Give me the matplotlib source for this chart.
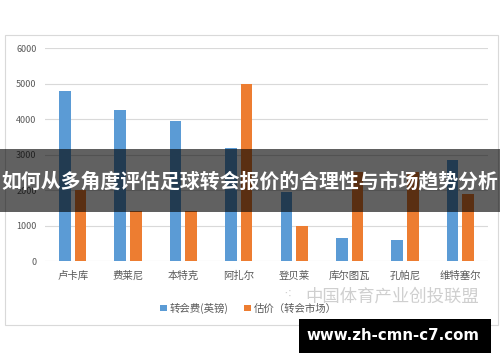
import matplotlib
matplotlib.use("Agg")
import matplotlib.pyplot as plt
import numpy as np
from matplotlib.patches import Rectangle

plt.rcParams['font.family'] = ['Noto Sans CJK SC', 'DejaVu Sans']

players = ["卢卡库", "费莱尼", "本特克", "阿扎尔", "登贝莱", "库尔图瓦", "孔帕尼", "维特塞尔"]
transfer_fee = [4800, 4250, 3950, 3180, 1950, 650, 600, 2850]
valuation = [2000, 1400, 1400, 5000, 1000, 2500, 2500, 1900]
series_names = ["转会费(英镑)", "估价（转会市场）"]
yticks = [0, 1000, 2000, 3000, 4000, 5000, 6000]
title = "如何从多角度评估足球转会报价的合理性与市场趋势分析"
site = "www.zh-cmn-c7.com"
watermark = "中国体育产业创投联盟"

blue = "#5B9BD5"
orange = "#ED7D31"

fig = plt.figure(figsize=(5, 3.62), dpi=100)
fig.patch.set_facecolor("white")

# chart frame
fig.patches.append(Rectangle((0.01, 0.102), 0.985, 0.801, transform=fig.transFigure,
                             facecolor="none", edgecolor="#d9d9d9", lw=0.8, zorder=-5))

ax = fig.add_axes([0.09, 0.279, 0.886, 0.588])
ax.set_zorder(2)
x = np.arange(len(players))
w = 0.21
b1 = ax.bar(x - 0.14, transfer_fee, w, color=blue, zorder=3, label=series_names[0])
b2 = ax.bar(x + 0.14, valuation, w, color=orange, zorder=3, label=series_names[1])
ax.set_xlim(-0.5, len(players) - 0.5)
ax.set_ylim(0, 6000)
ax.set_yticks(yticks)
ax.set_yticklabels([str(v) for v in yticks], fontsize=6.5, color="#595959")
ax.set_xticks(x)
ax.set_xticklabels(players, fontsize=7.5, color="#595959")
ax.tick_params(length=0, pad=6)
ax.tick_params(axis='x', pad=7)
for s in ax.spines.values():
    s.set_visible(False)
ax.grid(axis='y', color="#d9d9d9", lw=0.8, zorder=0)
ax.set_axisbelow(True)
ax.set_facecolor("none")

leg = fig.legend(handles=[b1, b2], labels=series_names, loc="center",
                 bbox_to_anchor=(0.497, 0.149), ncol=2, frameon=False,
                 fontsize=7.5, handlelength=0.6, handleheight=0.6,
                 handletextpad=0.3, columnspacing=1.5)
for t in leg.get_texts():
    t.set_color("#595959")

# watermark
fig.text(0.785, 0.18, watermark, fontsize=12.5, color="#cfcfcf", ha="center", va="center")
fig.text(0.575, 0.185, "⁖", fontsize=10, color="#cfcfcf", ha="center", va="center")

# title banner (drawn over the axes)
banner = Rectangle((0, 1 - 212/362), 1, 63/362, transform=fig.transFigure,
                   facecolor="black", alpha=0.62, edgecolor="none", zorder=10)
fig.add_artist(banner)
fig.text(0.5, 1 - 181/362, title, fontsize=14.3, fontweight="bold", color="white",
         ha="center", va="center", zorder=11)

# site box
site_box = Rectangle((299/500, 1 - 353/362), 192/500, 34/362, transform=fig.transFigure,
                     facecolor="black", edgecolor="none", zorder=10)
fig.add_artist(site_box)
fig.text(393/500, 1 - 336/362, site, fontsize=10.8, fontweight="bold", color="white",
         ha="center", va="center", zorder=11, family=["DejaVu Sans"])

fig.savefig("out.png", dpi=100, facecolor="white")
